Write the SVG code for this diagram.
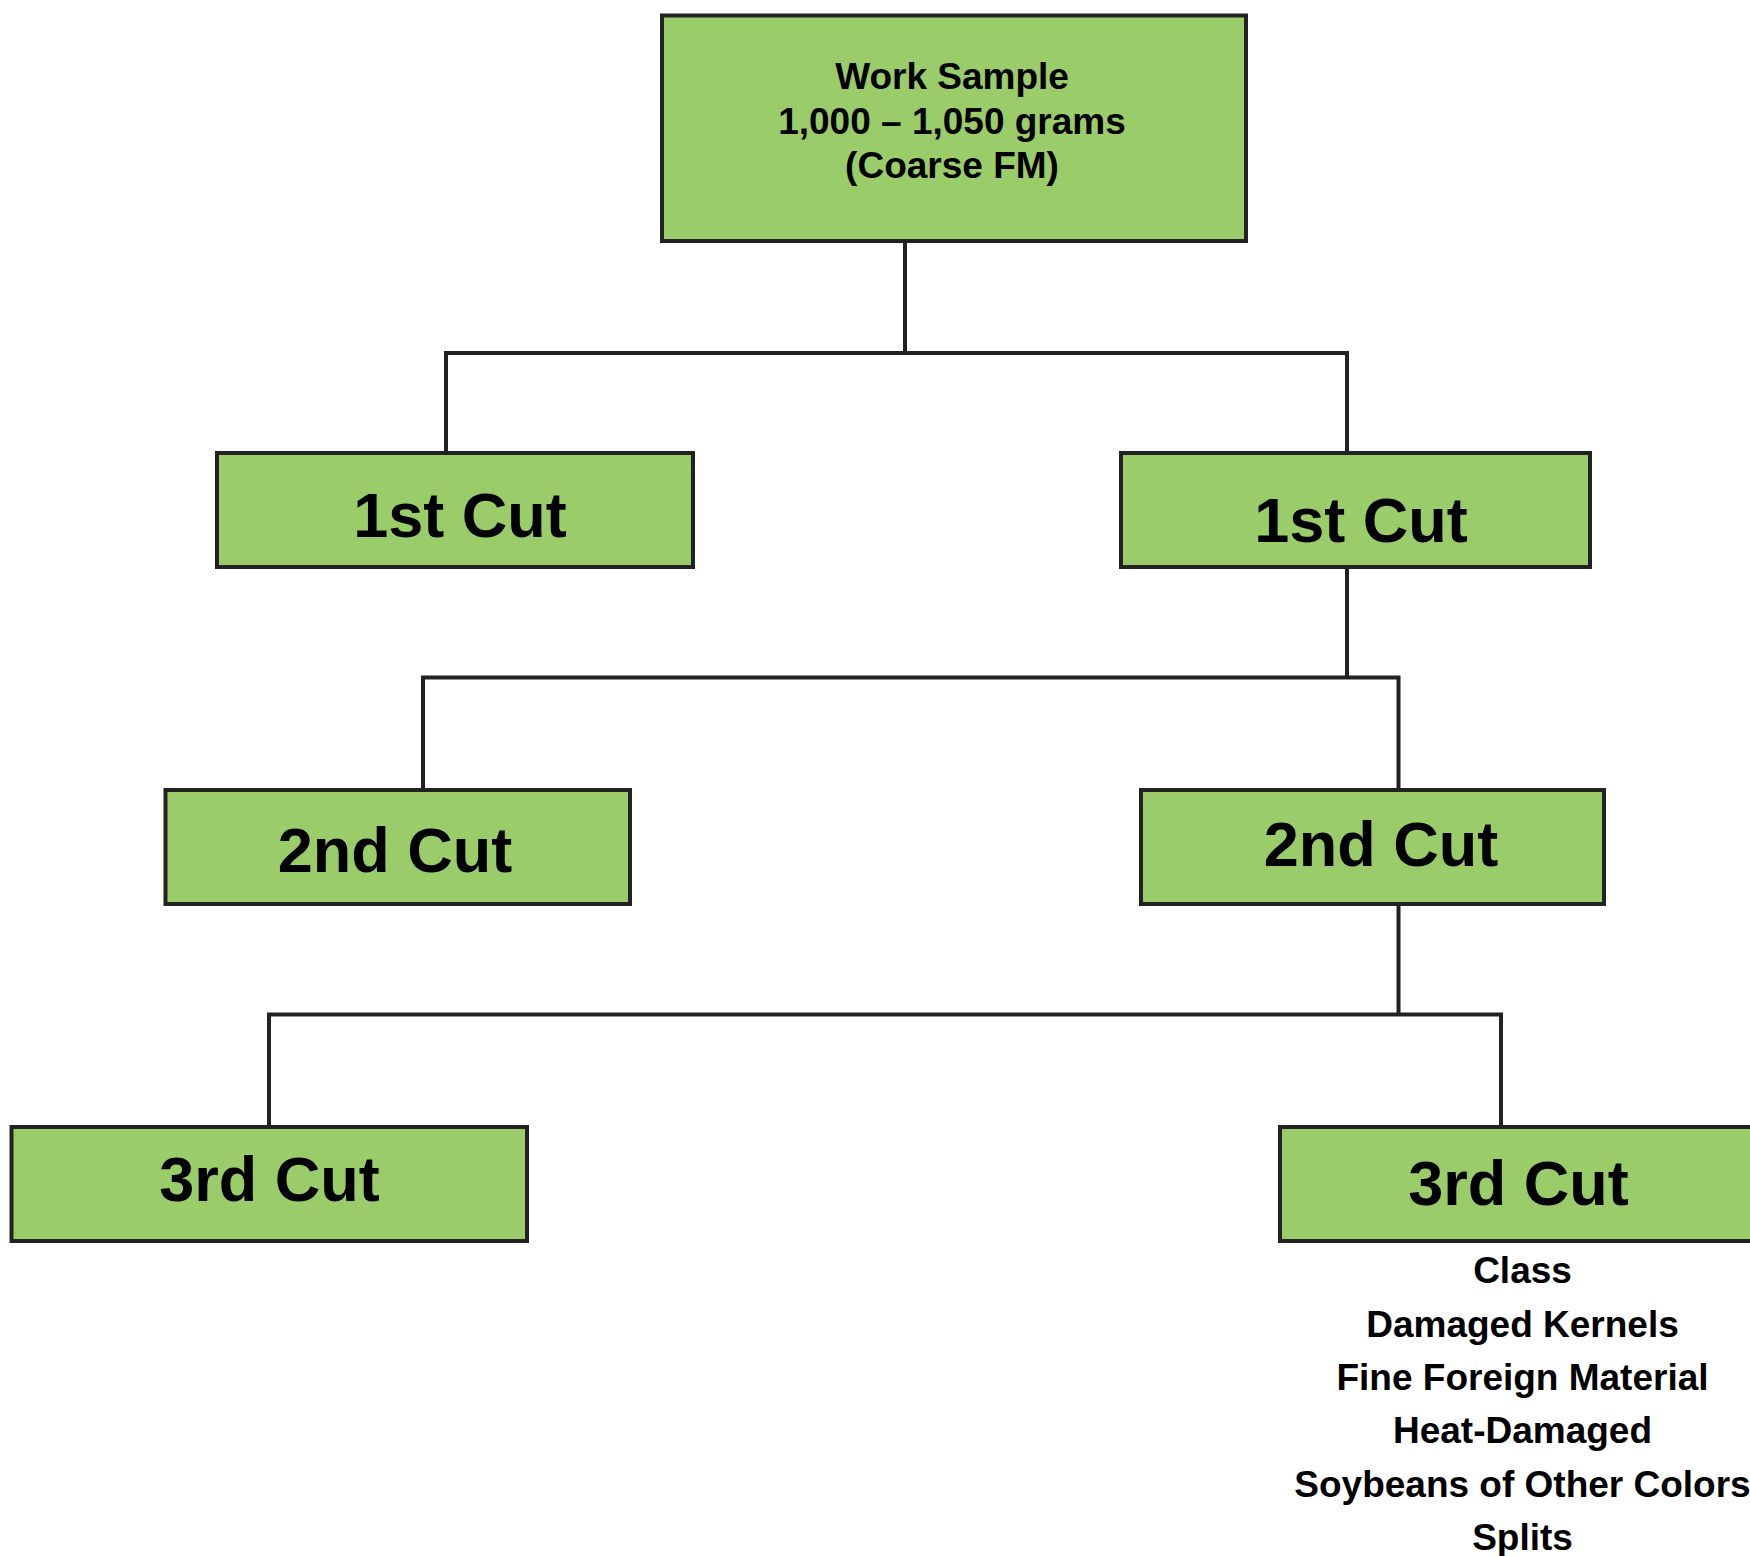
<svg xmlns="http://www.w3.org/2000/svg" width="1750" height="1556" viewBox="0 0 1750 1556">
<style>
.box{fill:#9acc6a;stroke:#222;stroke-width:4}
.conn{fill:none;stroke:#222;stroke-width:4;stroke-linecap:square}
.t{font-family:"Liberation Sans",Arial,sans-serif;font-weight:bold;fill:#000;text-anchor:middle}
.big{font-size:63px}
.small{font-size:37px}
</style>
<rect width="1750" height="1556" fill="#fff"/>
<g id="connectors">
<path class="conn" d="M905 241V353M446 453V353H1347V453"/>
<path class="conn" d="M1347 567V677.5M423 790V677.5H1398.5V790"/>
<path class="conn" d="M1398.5 904V1014.5M269 1127V1014.5H1501V1127"/>
</g>
<g id="work-sample">
<rect class="box" x="662" y="15.5" width="584" height="225.5"/>
<text class="t small" x="952" y="89">Work Sample</text>
<text class="t small" x="952" y="134">1,000 – 1,050 grams</text>
<text class="t small" x="952" y="177.5">(Coarse FM)</text>
</g>
<g id="cut1-left">
<rect class="box" x="217" y="453" width="476" height="114"/>
<text class="t big" x="460" y="537">1st Cut</text>
</g>
<g id="cut1-right">
<rect class="box" x="1121" y="453" width="469" height="114"/>
<text class="t big" x="1361" y="542">1st Cut</text>
</g>
<g id="cut2-left">
<rect class="box" x="165.5" y="790" width="464.5" height="114"/>
<text class="t big" x="395" y="871.5">2nd Cut</text>
</g>
<g id="cut2-right">
<rect class="box" x="1141" y="790" width="463" height="114"/>
<text class="t big" x="1381" y="866">2nd Cut</text>
</g>
<g id="cut3-left">
<rect class="box" x="11.5" y="1127" width="515.5" height="114"/>
<text class="t big" x="269.5" y="1201">3rd Cut</text>
</g>
<g id="cut3-right">
<rect class="box" x="1280" y="1127" width="520" height="114"/>
<text class="t big" x="1518.5" y="1205">3rd Cut</text>
</g>
<g id="factors">
<text class="t small" x="1522.5" y="1283">Class</text>
<text class="t small" x="1522.5" y="1336.5">Damaged Kernels</text>
<text class="t small" x="1522.5" y="1390">Fine Foreign Material</text>
<text class="t small" x="1522.5" y="1443">Heat-Damaged</text>
<text class="t small" x="1522.5" y="1496.5">Soybeans of Other Colors</text>
<text class="t small" x="1522.5" y="1550">Splits</text>
</g>
</svg>
